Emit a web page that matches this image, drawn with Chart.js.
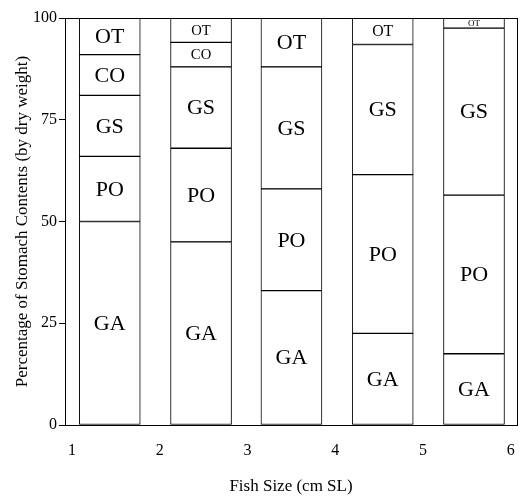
<!DOCTYPE html>
<html>
<head>
<meta charset="utf-8">
<script src="https://cdn.jsdelivr.net/npm/chart.js@4.4.1/dist/chart.umd.min.js"></script>
<style>
  html, body { margin: 0; padding: 0; background: #fff; }
  #wrap { width: 520px; height: 499px; }
</style>
</head>
<body>
<div id="wrap"><canvas id="chart" width="520" height="499"></canvas></div>
<script>
// ── Data ──
const binCenters = [1.43, 2.47, 3.5, 4.54, 5.58];   // fish size bins (cm SL)
const xTicks = [1, 2, 3, 4, 5, 6];
const yTicks = [0, 25, 50, 75, 100];

const GA = [50, 45, 33, 22.5, 17.5];
const PO = [16, 23, 25, 39, 39];
const GS = [15, 20, 30, 32, 41];
const CO = [10, 6, null, null, null];
const OT = [9, 6, 12, 6.5, 2.5];

const SERIF = "'Liberation Serif', 'DejaVu Serif', serif";

const series = [
  { label: 'GA', values: GA },
  { label: 'PO', values: PO },
  { label: 'GS', values: GS },
  { label: 'CO', values: CO },
  { label: 'OT', values: OT },
];

// box around the plot area
const frame = {
  id: 'frame',
  afterDraw(chart) {
    const { ctx, chartArea: a } = chart;
    ctx.save();
    ctx.strokeStyle = '#000';
    ctx.lineWidth = 1;
    ctx.strokeRect(Math.round(a.left) + 0.5, Math.round(a.top) + 0.5,
      Math.round(a.right - a.left), Math.round(a.bottom - a.top));
    ctx.restore();
  }
};

// segment names written inside each block
const segLabels = {
  id: 'segLabels',
  afterDatasetsDraw(chart) {
    const ctx = chart.ctx;
    ctx.save();
    ctx.fillStyle = '#000';
    ctx.textAlign = 'center';
    ctx.textBaseline = 'middle';
    chart.data.datasets.forEach((ds, di) => {
      const meta = chart.getDatasetMeta(di);
      meta.data.forEach((el, i) => {
        if (ds.data[i].y == null) return;
        const h = Math.abs(el.base - el.y);
        const size = Math.max(9, Math.min(22, h * 0.6));
        ctx.font = `${size}px ${SERIF}`;
        ctx.fillText(ds.label, el.x, (el.y + el.base) / 2 + 1);
      });
    });
    ctx.restore();
  }
};

new Chart(document.getElementById('chart'), {
  type: 'bar',
  data: {
    datasets: series.map(s => ({
      label: s.label,
      data: binCenters.map((x, i) => ({ x: x, y: s.values[i] })),
      backgroundColor: '#fff',
      borderColor: '#000',
      borderWidth: 1,
      borderSkipped: false,
      barThickness: 61,
      stack: 'all',
    }))
  },
  options: {
    responsive: false,
    animation: false,
    layout: { padding: { top: 18, right: 3, left: 0, bottom: 0 } },
    plugins: {
      legend: { display: false },
      tooltip: { enabled: false },
    },
    scales: {
      x: {
        type: 'linear',
        offset: false,
        min: 0.92,
        max: 6.07,
        afterFit: s => { s.height = 74; s.paddingLeft = 0; s.paddingRight = 0; },
        afterBuildTicks: s => { s.ticks = xTicks.map(v => ({ value: v })); },
        border: { display: false },
        grid: { display: false, drawTicks: false },
        ticks: { color: '#000', padding: 16, font: { family: SERIF, size: 16 } },
        title: {
          display: true,
          text: 'Fish Size (cm SL)',
          color: '#000',
          font: { family: SERIF, size: 17 },
          padding: { top: 0, bottom: 2 },
        },
      },
      y: {
        stacked: true,
        min: 0,
        max: 100,
        afterFit: s => { s.width = 65; },
        afterBuildTicks: s => { s.ticks = yTicks.map(v => ({ value: v })); },
        border: { display: false },
        grid: { drawOnChartArea: false, drawTicks: true, tickLength: 6, color: '#000' },
        ticks: { color: '#000', padding: 2, font: { family: SERIF, size: 16 } },
        title: {
          display: true,
          text: 'Percentage of Stomach Contents (by dry weight)',
          color: '#000',
          font: { family: SERIF, size: 17 },
          padding: { top: 12, bottom: 0 },
        },
      },
    },
  },
  plugins: [frame, segLabels],
});
</script>
</body>
</html>
